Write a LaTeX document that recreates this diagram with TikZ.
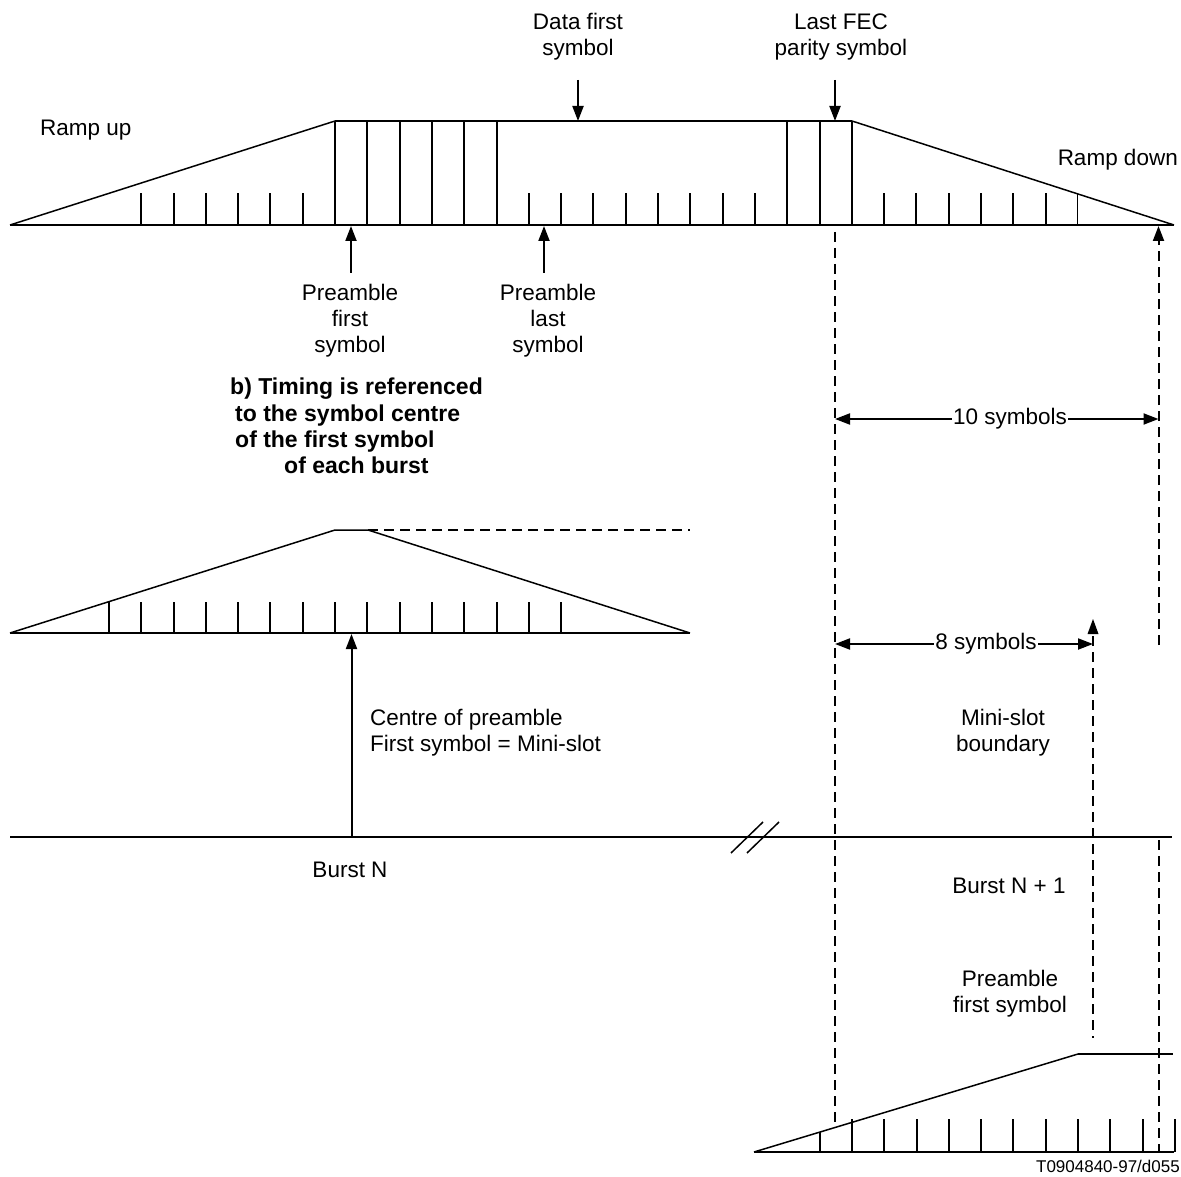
\documentclass[tikz,border=0pt]{standalone}
\usepackage{fontspec}
\setmainfont{Liberation Sans}
\usetikzlibrary{arrows.meta}
\begin{document}
\begin{tikzpicture}[x=1pt,y=-1pt,
  ln/.style={line width=2pt},
  rampln/.style={line width=1.5pt},
  dsh/.style={line width=2pt,dash pattern=on 10pt off 6pt},
  arr/.style={line width=2pt,-{Triangle[length=15pt,width=11pt]}},
  darr/.style={line width=2pt,{Triangle[length=15pt,width=11pt]}-{Triangle[length=15pt,width=11pt]}},
  lbl/.style={inner sep=0pt,align=center,font=\fontsize{22.5}{26}\selectfont},
  lbll/.style={inner sep=0pt,align=left,font=\fontsize{22.5}{26}\selectfont}]
\useasboundingbox (0,0) rectangle (1181,1177);
\def\s{32.3}
% ---------- top burst ----------
\coordinate (tA) at (10,225);
\coordinate (tB) at (335,121);
\coordinate (tC) at (852,121);
\coordinate (tD) at (1174,225);
\draw[rampln] (tA) -- (tB) (tC) -- (tD);
\draw[ln] (tB) -- (tC);
\draw[ln] (tA) -- (tD);
\foreach \i in {-6,...,-1,6,7,...,13,17,18,...,22}
  \draw[ln] ({335+\i*\s},225) -- ({335+\i*\s},193);
\foreach \i in {0,...,5,14,15,16}
  \draw[ln] ({335+\i*\s},225) -- ({335+\i*\s},121);
\draw[line width=1pt] ({335+23*\s},225) -- ({335+23*\s},194);
% top labels and arrows
\node[lbl] (dfs) at (578,37) {Data first\\symbol};
\node[lbl] (lfec) at (841,37) {Last FEC\\parity symbol};
\coordinate (dfsT) at (578,121);
\coordinate (lfecT) at (835,121);
\draw[arr] (578,80) -- (dfsT);
\draw[arr] (835,80) -- (lfecT);
\node[lbll,anchor=west] (rup) at (40,130) {Ramp up};
\node[lbll,anchor=east] (rdn) at (1178,160) {Ramp down};
\node[lbl] (pfs) at (350,321) {Preamble\\first\\symbol};
\node[lbl] (pls) at (548,321) {Preamble\\last\\symbol};
\coordinate (pfsT) at (351,226);
\coordinate (plsT) at (544,226);
\draw[arr] (351,273) -- (pfsT);
\draw[arr] (544,273) -- (plsT);
% ---------- middle burst ----------
\node[lbll,anchor=north west,font=\fontsize{23}{26.3}\selectfont\bfseries] (timing) at (230,378)
  {b) Timing is referenced\\\hspace*{5pt}to the symbol centre\\\hspace*{5pt}of the first symbol\\\hspace*{54pt}of each burst};
\coordinate (mA) at (10,633);
\coordinate (mB) at (335,530);
\coordinate (mC) at (368,530);
\coordinate (mD) at (690,633);
\draw[rampln] (mA) -- (mB) -- (mC) -- (mD);
\draw[ln] (mA) -- (mD);
\draw[dsh] (mC) -- (690,530);
\foreach \i in {-7,...,7}
  \draw[ln] ({335+\i*\s},633) -- ({335+\i*\s},602);
\coordinate (cpT) at (351.5,634);
\coordinate (cpB) at (351.5,837);
\draw[arr] (cpB) -- (cpT);
\node[lbll,anchor=west] (cp) at (370,733) {Centre of preamble\\First symbol = Mini-slot};
% ---------- burst N line ----------
\coordinate (nA) at (10,837);
\coordinate (nB) at (1172,837);
\draw[ln] (nA) -- (nB);
\draw[line width=1.5pt] (731,853) -- (763,822) (747,853) -- (779,822);
\node[lbl] (bn) at (350,870) {Burst N};
% ---------- right side dashed lines ----------
\draw[dsh] (835,232) -- (835,1127);
\draw[dsh,-{Triangle[length=15pt,width=11pt]}] (1158.5,645) -- (1158.5,226);
\draw[dsh] (1158.5,840) -- (1158.5,1152);
\draw[dsh] (1093,636) -- (1093,1038);
\fill (1093,619) -- (1087.5,634) -- (1098.5,634) -- cycle;
% dimension arrows
\coordinate (d10a) at (835,419);
\coordinate (d10b) at (1158.5,419);
\draw[darr] (d10a) -- (d10b);
\node[lbl,fill=white,inner xsep=1pt] (ten) at (1010,419) {10 symbols};
\coordinate (d8a) at (835,644);
\coordinate (d8b) at (1093,644);
\draw[darr] (d8a) -- (d8b);
\node[lbl,fill=white,inner xsep=1pt] (eight) at (986,644) {8 symbols};
\node[lbl] (msb) at (1003,733) {Mini-slot\\boundary};
\node[lbl] (bn1) at (1009,886) {Burst N + 1};
\node[lbl] (pfs2) at (1010,994) {Preamble\\first symbol};
% ---------- bottom burst ----------
\coordinate (bA) at (754,1152);
\coordinate (bB) at (1078,1054);
\coordinate (bC) at (1173,1054);
\draw[rampln] (bA) -- (bB);
\draw[ln] (bB) -- (bC);
\draw[ln] (bA) -- (1174,1152);
\draw[ln] ({1078-8*\s},1152) -- ({1078-8*\s},1132);
\foreach \i in {-7,...,3}
  \draw[ln] ({1078+\i*\s},1152) -- ({1078+\i*\s},1119);
\node[inner sep=0pt,anchor=east,font=\fontsize{17}{20}\selectfont] (ref) at (1180,1166) {T0904840-97/d055};
\end{tikzpicture}
\end{document}
